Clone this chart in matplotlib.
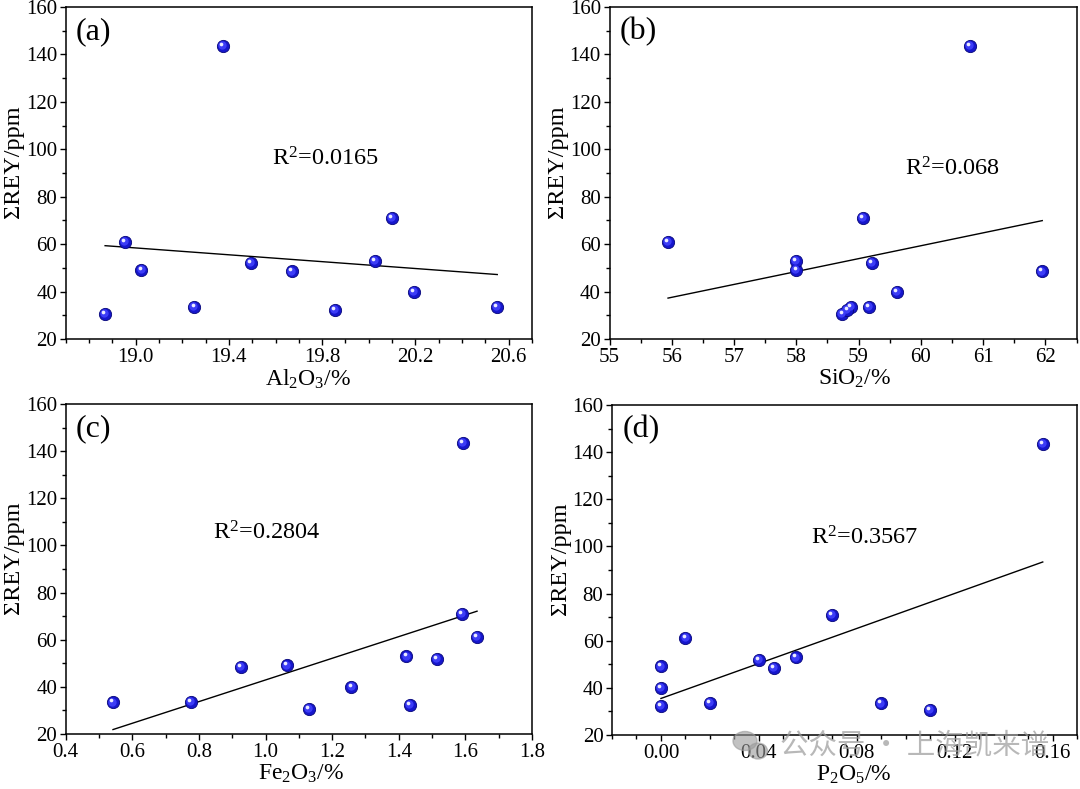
import numpy as np
import matplotlib
matplotlib.use('Agg')
import matplotlib.pyplot as plt
from matplotlib.ticker import MultipleLocator, FormatStrFormatter
from matplotlib.transforms import offset_copy
from matplotlib.patches import Ellipse

plt.rcParams['font.family'] = ['Liberation Serif', 'DejaVu Serif']
plt.rcParams['mathtext.fontset'] = 'custom'
plt.rcParams['mathtext.rm'] = 'Liberation Serif'
plt.rcParams['mathtext.it'] = 'Liberation Serif:italic'

# Sample values, same 12 samples in every panel
rey = [30.7, 61.0, 49.1, 33.4, 143.5, 51.9, 48.5, 32.2, 52.9, 70.9, 39.9, 33.6]
al2o3 = [18.869, 18.955, 19.025, 19.252, 19.373, 19.495, 19.669, 19.853, 20.025, 20.099, 20.192, 20.551]
sio2 = [58.74, 55.94, 58.00, 58.88, 60.79, 59.22, 61.95, 58.82, 57.99, 59.07, 59.61, 59.17]
fe2o3 = [1.130, 1.635, 1.063, 0.542, 1.593, 1.514, 0.927, 1.433, 1.423, 1.590, 1.258, 0.775]
p2o5 = [0.110, 0.010, 0.000, 0.090, 0.156, 0.040, 0.046, 0.000, 0.055, 0.070, 0.000, 0.020]

r2_labels = ['R$^{2}$=0.0165', 'R$^{2}$=0.068', 'R$^{2}$=0.2804', 'R$^{2}$=0.3567']
x_labels = ['Al$_\\mathregular{2}$O$_\\mathregular{3}$/%', 'SiO$_\\mathregular{2}$/%',
            'Fe$_\\mathregular{2}$O$_\\mathregular{3}$/%', 'P$_\\mathregular{2}$O$_\\mathregular{5}$/%']
panel_tags = ['(a)', '(b)', '(c)', '(d)']

xticks = [[19.0, 19.4, 19.8, 20.2, 20.6],
          [55, 56, 57, 58, 59, 60, 61, 62],
          [0.4, 0.6, 0.8, 1.0, 1.2, 1.4, 1.6, 1.8],
          [0.00, 0.04, 0.08, 0.12, 0.16]]
yticks = [20, 40, 60, 80, 100, 120, 140, 160]

fig = plt.figure(figsize=(10.8, 7.89), dpi=100)

# axes boxes in figure pixels: left, bottom(from top), width, height
boxes = [(65.7, 339, 466.3, 332), (609.5, 339, 467, 332),
         (65.7, 734, 466.3, 330), (612, 735, 465, 330)]

xdata = [al2o3, sio2, fe2o3, p2o5]
xlims = [(18.7, 20.7), (55, 62.5), (0.4, 1.8), (-0.02, 0.17)]
xminor = [0.1, 0.5, 0.1, 0.01]
xfmt = ['%.1f', '%d', '%.1f', '%.2f']
r2_pos = [(19.585, 96.0), (59.74, 91.8), (0.842, 105.2), (0.0612, 103.8)]
xlab_x = [0.52, 0.525, 0.505, 0.52]

for i in range(4):
    l, b, w, h = boxes[i]
    ax = fig.add_axes([l / 1080, (789 - b) / 789, w / 1080, h / 789])
    x = np.array(xdata[i])
    y = np.array(rey)

    # trend line
    k, c = np.polyfit(x, y, 1)
    xx = np.array([x.min(), x.max()])
    ax.plot(xx, k * xx + c, color='black', lw=1.0, zorder=2)

    # ball-like markers
    ax.scatter(x, y, s=78, color='#1616cc', edgecolors='#06067a', linewidths=0.6, zorder=3)
    t1 = offset_copy(ax.transData, fig=fig, x=-0.9, y=0.9, units='dots')
    ax.scatter(x, y, s=36, color='#3c3cf6', linewidths=0, transform=t1, zorder=4)
    t2 = offset_copy(ax.transData, fig=fig, x=-1.8, y=2.0, units='dots')
    ax.scatter(x, y, s=7, color='#ececff', linewidths=0, transform=t2, zorder=5)

    ax.set_xlim(*xlims[i])
    ax.set_ylim(20, 160)
    ax.set_xticks(xticks[i])
    ax.xaxis.set_minor_locator(MultipleLocator(xminor[i]))
    ax.xaxis.set_major_formatter(FormatStrFormatter(xfmt[i]))
    ax.set_yticks(yticks)
    ax.yaxis.set_minor_locator(MultipleLocator(10))
    ax.tick_params(which='major', direction='out', length=4.2, width=1.0, labelsize=15, pad=2)
    ax.tick_params(which='minor', direction='out', length=3.0, width=1.0)
    for sp in ax.spines.values():
        sp.set_linewidth(1.1)

    ax.set_ylabel('ΣREY/ppm', fontsize=17.5, labelpad=1, y=0.535)
    ax.set_xlabel(x_labels[i], fontsize=17, labelpad=1, x=xlab_x[i])
    ax.text(0.022, 0.925, panel_tags[i], transform=ax.transAxes, fontsize=23,
            ha='left', va='center')
    ax.text(r2_pos[i][0], r2_pos[i][1], r2_labels[i], fontsize=17.5, ha='left', va='center')

# watermark (sits over the tick labels, as in the source image)
wm_color = '#9a9a9a'
fig.patches.append(Ellipse((745 / 1080, 1 - 741 / 789), 24 / 1080, 19 / 789,
                           transform=fig.transFigure, color=wm_color, alpha=0.6, zorder=10))
fig.patches.append(Ellipse((758 / 1080, 1 - 751 / 789), 19 / 1080, 16 / 789,
                           transform=fig.transFigure, color=wm_color, alpha=0.6, zorder=10))
fig.text(780 / 1080, 1 - 745 / 789, '公众号 · 上海凯来谱', fontsize=20.5, color=wm_color, alpha=0.7,
         family=['Noto Sans CJK SC', 'DejaVu Sans'], ha='left', va='center', zorder=10)

fig.savefig('out.png', dpi=100, facecolor='white')
